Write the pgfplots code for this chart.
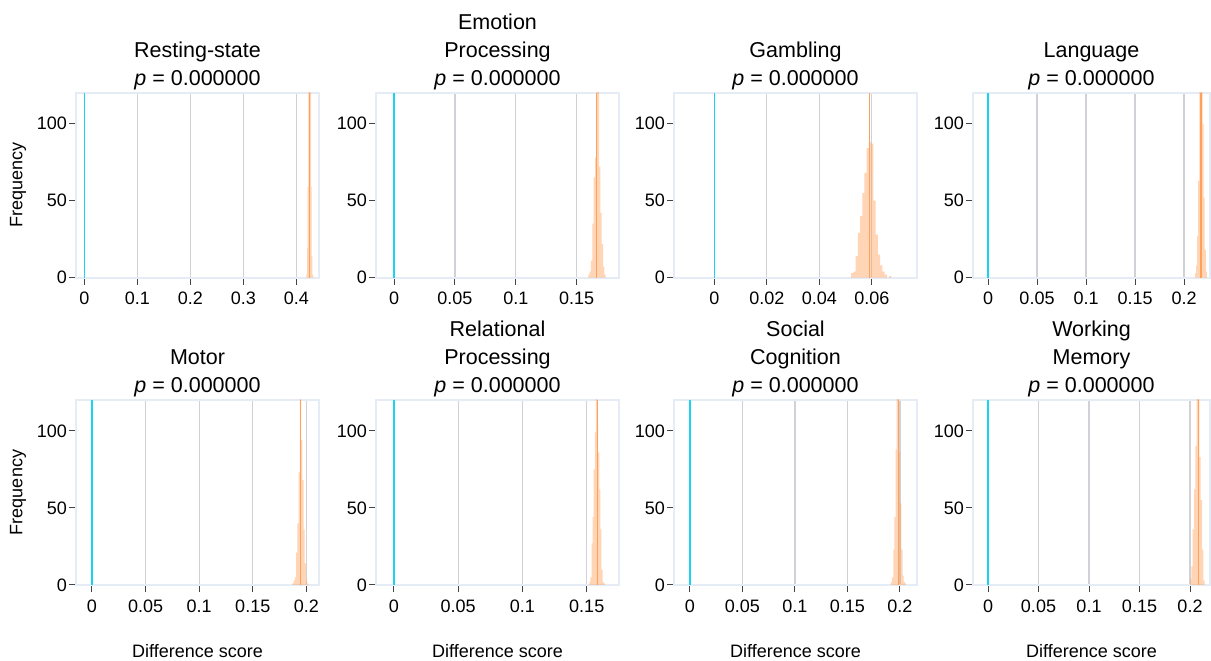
\documentclass[border=0pt]{standalone}
\usepackage{fontspec}
\setmainfont{Liberation Sans}
\usepackage{pgfplots}
\usepackage{pgfplotstable}
\pgfplotsset{compat=1.18}
\definecolor{framecol}{RGB}{229,236,246}
\definecolor{gridcol}{RGB}{208,210,215}
\definecolor{tickcol}{RGB}{68,68,68}
\definecolor{cyanl}{HTML}{19D3F3}
\definecolor{orng}{HTML}{FFA15A}

\pgfplotstableread{
x y
0.41880 2
0.42005 19
0.42130 59
0.42255 130
0.42380 170
0.42505 160
0.42630 120
0.42755 59
0.42880 14
0.43005 2
0.43130 0
}\tabResting
\pgfplotstableread{
x y
0.1595 2
0.1606 4
0.1617 11
0.1628 35
0.1639 65
0.1650 78
0.1661 130
0.1672 125
0.1683 72
0.1694 42
0.1705 22
0.1716 7
0.1727 2
0.1738 0
}\tabEmotion
\pgfplotstableread{
x y
0.05210 3
0.05295 4
0.05380 14
0.05465 29
0.05550 40
0.05635 55
0.05720 68
0.05805 84
0.05890 88
0.05975 87
0.06060 50
0.06145 28
0.06230 15
0.06315 8
0.06400 4
0.06485 2
0.06570 0
0.06655 1
0.06740 0
}\tabGambling
\pgfplotstableread{
x y
0.2112 3
0.2123 8
0.2134 27
0.2145 63
0.2156 125
0.2167 160
0.2178 150
0.2189 100
0.2200 52
0.2211 18
0.2222 4
0.2233 0
}\tabLanguage
\pgfplotstableread{
x y
0.18700 1
0.18815 3
0.18930 5
0.19045 21
0.19160 40
0.19275 73
0.19390 135
0.19505 94
0.19620 68
0.19735 36
0.19850 14
0.19965 3
0.20080 1
0.20195 0
}\tabMotor
\pgfplotstableread{
x y
0.15200 2
0.15286 5
0.15372 27
0.15458 44
0.15544 75
0.15630 99
0.15716 130
0.15802 105
0.15888 86
0.15974 62
0.16060 36
0.16146 10
0.16232 2
0.16318 1
0.16404 0
}\tabRelational
\pgfplotstableread{
x y
0.1914 2
0.1925 5
0.1936 23
0.1947 44
0.1958 88
0.1969 130
0.1980 135
0.1991 86
0.2002 53
0.2013 23
0.2024 6
0.2035 2
0.2046 1
0.2057 0
}\tabSocial
\pgfplotstableread{
x y
0.20000 4
0.20132 12
0.20264 36
0.20396 62
0.20528 90
0.20660 128
0.20792 140
0.20924 83
0.21056 55
0.21188 23
0.21320 3
0.21452 0
}\tabWorking

\pgfplotsset{
  panel/.style={
    scale only axis, width=243pt, height=185pt, anchor=south west,
    ymin=0, ymax=120, ytick={0,50,100}, yticklabels={0,50,100},
    tick pos=left, tick align=outside, major tick length=7pt,
    xmajorgrids, major grid style={draw=gridcol, line width=1.3pt},
    axis line style={draw=framecol, line width=2pt},
    tick style={draw=tickcol, line width=1pt},
    tick label style={font=\fontsize{18}{18}\selectfont},
    yticklabel style={inner sep=2pt},
    xticklabel style={yshift=-4pt},
    title style={font=\fontsize{21.5}{28}\selectfont, align=center, anchor=south, at={(0.5,1)}, inner sep=0pt, yshift=-3pt},
    label style={font=\fontsize{18}{18}\selectfont},
    scaled x ticks=false, clip=true,
  },
  ylab/.style={ylabel={Frequency}, ylabel style={at={(axis description cs:-0.2387,0.5)}, anchor=center}},
  xlab/.style={xlabel={Difference score}, xlabel style={at={(axis description cs:0.5,-0.357)}, anchor=center}},
  hist/.style={ybar interval, fill=orng, fill opacity=0.45, draw=none},
  zero/.style={cyanl, line width=1.5pt},
  obs/.style={orng, line width=1.1pt},
}

\begin{document}
\begin{tikzpicture}
\useasboundingbox (0,0) rectangle (1211pt,661pt);

% Row 1
\begin{axis}[panel, ylab, at={(76pt,383.3pt)}, xmin=-0.01563, xmax=0.4426,
  xtick={0,0.1,0.2,0.3,0.4}, xticklabels={0,0.1,0.2,0.3,0.4},
  title={Resting-state\\\textit{p} = 0.000000}]
\addplot[hist] table[x=x,y=y] {\tabResting};
\addplot[zero] coordinates {(0,0) (0,120)};
\addplot[obs] coordinates {(0.4250,0) (0.4250,120)};
\end{axis}

\begin{axis}[panel, at={(376pt,383.3pt)}, xmin=-0.01478, xmax=0.1847,
  xtick={0,0.05,0.1,0.15}, xticklabels={0,0.05,0.1,0.15},
  title={Emotion\\Processing\\\textit{p} = 0.000000}]
\addplot[hist] table[x=x,y=y] {\tabEmotion};
\addplot[zero] coordinates {(0,0) (0,120)};
\addplot[obs] coordinates {(0.1664,0) (0.1664,120)};
\end{axis}

\begin{axis}[panel, at={(674pt,383.3pt)}, xmin=-0.01535, xmax=0.0772,
  xtick={0,0.02,0.04,0.06}, xticklabels={0,0.02,0.04,0.06},
  title={Gambling\\\textit{p} = 0.000000}]
\addplot[hist] table[x=x,y=y] {\tabGambling};
\addplot[zero] coordinates {(0,0) (0,120)};
\addplot[obs] coordinates {(0.05905,0) (0.05905,120)};
\end{axis}

\begin{axis}[panel, width=237pt, at={(973pt,383.3pt)}, xmin=-0.0153, xmax=0.2265,
  xtick={0,0.05,0.1,0.15,0.2}, xticklabels={0,0.05,0.1,0.15,0.2},
  title={Language\\\textit{p} = 0.000000}]
\addplot[hist] table[x=x,y=y] {\tabLanguage};
\addplot[zero] coordinates {(0,0) (0,120)};
\addplot[obs] coordinates {(0.2173,0) (0.2173,120)};
\end{axis}

% Row 2
\begin{axis}[panel, ylab, xlab, at={(76pt,76pt)}, xmin=-0.0149, xmax=0.2118,
  xtick={0,0.05,0.1,0.15,0.2}, xticklabels={0,0.05,0.1,0.15,0.2},
  title={Motor\\\textit{p} = 0.000000}]
\addplot[hist] table[x=x,y=y] {\tabMotor};
\addplot[zero] coordinates {(0,0) (0,120)};
\addplot[obs] coordinates {(0.1944,0) (0.1944,120)};
\end{axis}

\begin{axis}[panel, xlab, at={(376pt,76pt)}, xmin=-0.0140, xmax=0.1751,
  xtick={0,0.05,0.1,0.15}, xticklabels={0,0.05,0.1,0.15},
  title={Relational\\Processing\\\textit{p} = 0.000000}]
\addplot[hist] table[x=x,y=y] {\tabRelational};
\addplot[zero] coordinates {(0,0) (0,120)};
\addplot[obs] coordinates {(0.1585,0) (0.1585,120)};
\end{axis}

\begin{axis}[panel, xlab, at={(674pt,76pt)}, xmin=-0.0152, xmax=0.2162,
  xtick={0,0.05,0.1,0.15,0.2}, xticklabels={0,0.05,0.1,0.15,0.2},
  title={Social\\Cognition\\\textit{p} = 0.000000}]
\addplot[hist] table[x=x,y=y] {\tabSocial};
\addplot[zero] coordinates {(0,0) (0,120)};
\addplot[obs] coordinates {(0.1984,0) (0.1984,120)};
\end{axis}

\begin{axis}[panel, xlab, width=237pt, at={(973pt,76pt)}, xmin=-0.01485, xmax=0.2198,
  xtick={0,0.05,0.1,0.15,0.2}, xticklabels={0,0.05,0.1,0.15,0.2},
  title={Working\\Memory\\\textit{p} = 0.000000}]
\addplot[hist] table[x=x,y=y] {\tabWorking};
\addplot[zero] coordinates {(0,0) (0,120)};
\addplot[obs] coordinates {(0.2082,0) (0.2082,120)};
\end{axis}
\end{tikzpicture}
\end{document}
